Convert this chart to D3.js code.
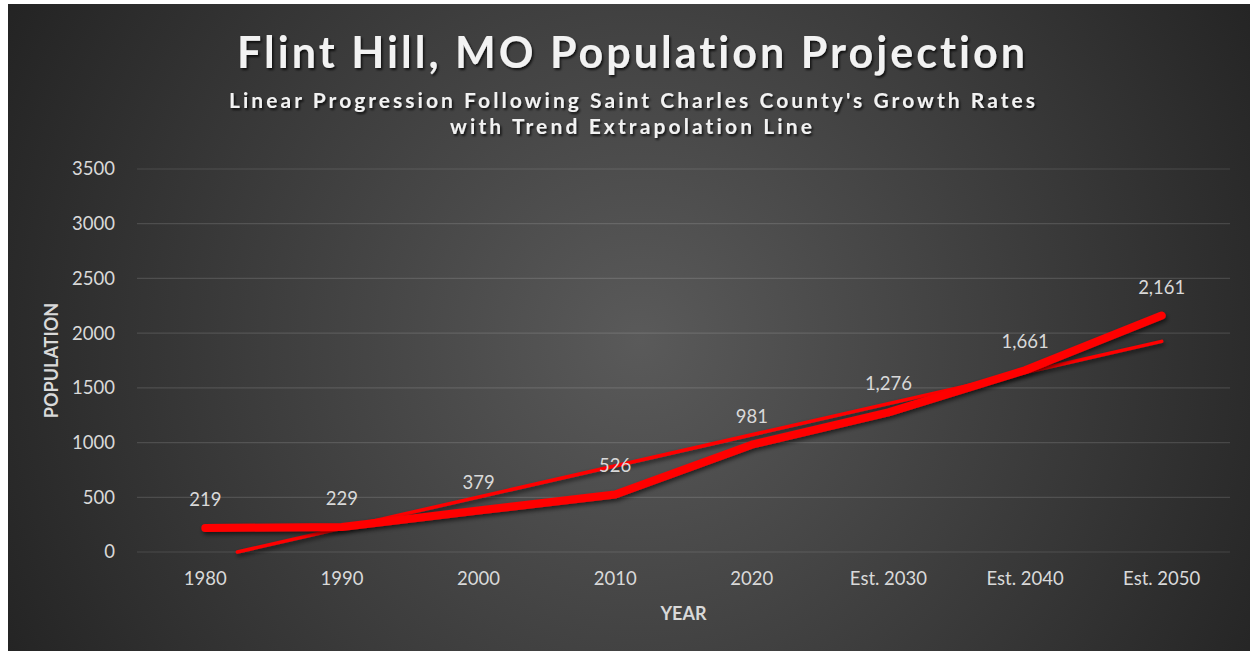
<!DOCTYPE html>
<html><head><meta charset="utf-8">
<script src="https://cdn.jsdelivr.net/npm/d3@7"></script>
<style>html,body{margin:0;padding:0;background:#fff;}svg{display:block;}text{font-variant-ligatures:none;font-feature-settings:"liga" 0,"clig" 0;}</style>
</head><body>
<script>
const categories = ["1980","1990","2000","2010","2020","Est. 2030","Est. 2040","Est. 2050"];
const population = [219, 229, 379, 526, 981, 1276, 1661, 2161];
const yTicks = [0, 500, 1000, 1500, 2000, 2500, 3000, 3500];
const titleText = "Flint Hill, MO Population Projection";
const subtitleLines = ["Linear Progression Following Saint Charles County's Growth Rates", "with Trend Extrapolation Line"];
const xAxisTitle = "YEAR";
const yAxisTitle = "POPULATION";

const W = 1250, H = 651;
const svg = d3.select("body").append("svg").attr("width", W).attr("height", H);
const defs = svg.append("defs");
const rg = defs.append("radialGradient").attr("id","bg").attr("gradientUnits","userSpaceOnUse")
  .attr("cx", 640).attr("cy", 340).attr("r", 760);
rg.append("stop").attr("offset","0%").attr("stop-color","#5a5a5a");
rg.append("stop").attr("offset","100%").attr("stop-color","#202020");
const f = defs.append("filter").attr("id","ts").attr("x","-10%").attr("y","-30%").attr("width","120%").attr("height","160%");
f.append("feDropShadow").attr("dx",1.5).attr("dy",2).attr("stdDeviation",1.3).attr("flood-color","#000").attr("flood-opacity",0.75);
const ls = defs.append("filter").attr("id","ls").attr("x","-10%").attr("y","-30%").attr("width","120%").attr("height","160%");
ls.append("feDropShadow").attr("dx",1.5).attr("dy",2.5).attr("stdDeviation",2).attr("flood-color","#000").attr("flood-opacity",0.6);

svg.append("rect").attr("x",8).attr("y",4).attr("width",W-8).attr("height",H-4).attr("fill","url(#bg)");

const font = "Lato, 'Open Sans', sans-serif";
const margin = {left:137, right:1230, top:169, bottom:552};
const x = d3.scaleBand().domain(categories).range([margin.left, margin.right]);
const y = d3.scaleLinear().domain([0, 3500]).range([margin.bottom, margin.top]);
const cx = c => x(c) + x.bandwidth()/2;

// grid
svg.append("g").selectAll("line").data(yTicks).join("line")
  .attr("x1", margin.left).attr("x2", margin.right)
  .attr("y1", d => y(d)).attr("y2", d => y(d))
  .attr("stroke","#ffffff").attr("stroke-opacity",0.13).attr("stroke-width",1.2);

// y axis
const yAxis = svg.append("g").attr("transform",`translate(${margin.left},0)`)
  .call(d3.axisLeft(y).tickValues(yTicks).tickSize(0).tickPadding(22).tickFormat(d3.format("d")));
yAxis.select(".domain").remove();
yAxis.selectAll("text").attr("fill","#d9d9d9").style("font-family",font).style("font-size","18.5px");

// x axis
const xAxis = svg.append("g").attr("transform",`translate(0,${margin.bottom})`)
  .call(d3.axisBottom(x).tickSize(0).tickPadding(20));
xAxis.select(".domain").remove();
xAxis.selectAll("text").attr("fill","#d9d9d9").style("font-family",font).style("font-size","18.5px");

// trend line (least squares on category index), clipped at 0 like the reference
const idx = population.map((v,i)=>i+1);
const mx = d3.mean(idx), my = d3.mean(population);
const slope = d3.sum(idx.map((xi,i)=>(xi-mx)*(population[i]-my))) / d3.sum(idx.map(xi=>(xi-mx)**2));
const icpt = my - slope*mx;
const xi = d3.scaleLinear().domain([1, categories.length]).range([cx(categories[0]), cx(categories[categories.length-1])]);
const tStart = Math.max(1, -icpt/slope);
const tEnd = categories.length;
svg.append("line")
  .attr("x1", xi(tStart)).attr("y1", y(icpt + slope*tStart))
  .attr("x2", xi(tEnd)).attr("y2", y(icpt + slope*tEnd))
  .attr("stroke","#ff0000").attr("stroke-width",3.5).attr("stroke-linecap","round")
  .attr("filter","url(#ls)");

// main line
const line = d3.line().x((d,i)=>cx(categories[i])).y(d=>y(d));
svg.append("path").datum(population).attr("d", line)
  .attr("fill","none").attr("stroke","#ff0000").attr("stroke-width",8)
  .attr("stroke-linecap","round").attr("stroke-linejoin","round").attr("filter","url(#ls)");

// data labels
svg.append("g").selectAll("text").data(population).join("text")
  .attr("x",(d,i)=>cx(categories[i])).attr("y", d => y(d) - 22)
  .attr("text-anchor","middle").attr("fill","#d9d9d9")
  .style("font-family",font).style("font-size","18.5px")
  .text(d => d3.format(",")(d));

// titles
svg.append("text").attr("x",631).attr("y",68).attr("text-anchor","middle")
  .attr("fill","#f2f2f2").attr("filter","url(#ts)")
  .attr("textLength",788).attr("lengthAdjust","spacing")
  .style("font-family",font).style("font-size","43px").style("font-weight","bold")
  .text(titleText);
svg.append("text").attr("x",632).attr("y",108).attr("text-anchor","middle")
  .attr("fill","#f2f2f2").attr("filter","url(#ts)")
  .attr("textLength",806).attr("lengthAdjust","spacing")
  .style("font-family",font).style("font-size","21px").style("font-weight","bold")
  .text(subtitleLines[0]);
svg.append("text").attr("x",631).attr("y",134).attr("text-anchor","middle")
  .attr("fill","#f2f2f2").attr("filter","url(#ts)")
  .attr("textLength",362).attr("lengthAdjust","spacing")
  .style("font-family",font).style("font-size","21px").style("font-weight","bold")
  .text(subtitleLines[1]);

// axis titles
svg.append("text").attr("x",(margin.left+margin.right)/2).attr("y",620).attr("text-anchor","middle")
  .attr("fill","#d9d9d9").style("font-family",font).style("font-size","18px").style("font-weight","bold")
  .text(xAxisTitle);
svg.append("text").attr("transform",`translate(58,${(margin.top+margin.bottom)/2}) rotate(-90)`)
  .attr("text-anchor","middle").attr("fill","#d9d9d9")
  .style("font-family",font).style("font-size","18px").style("font-weight","bold")
  .text(yAxisTitle);
</script>
</body></html>
